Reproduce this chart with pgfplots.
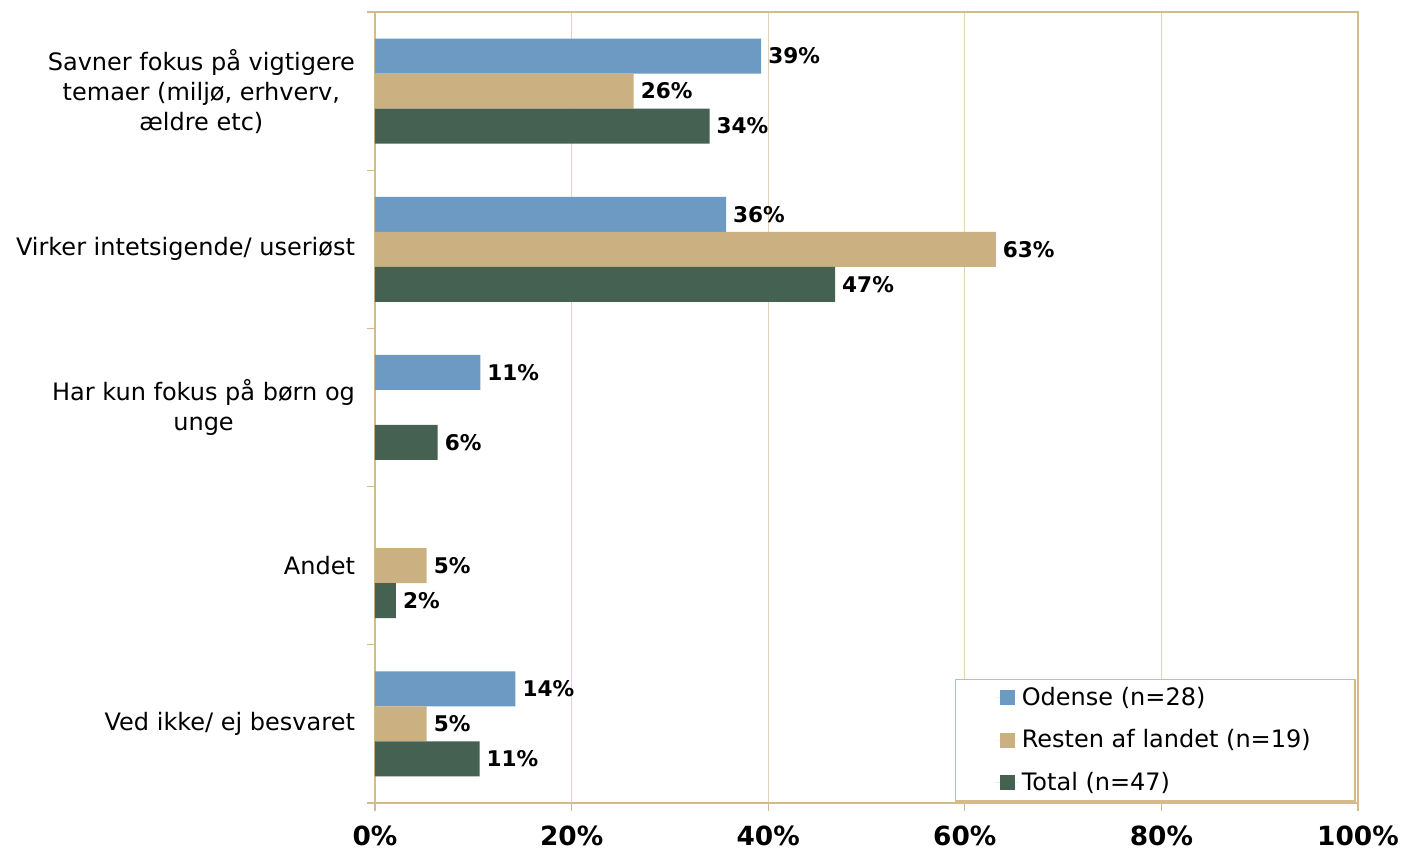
\documentclass[border=0pt]{standalone}
\usepackage{fontspec}
\setmainfont{DejaVu Sans}
\usepackage{pgfplots}
\pgfplotsset{compat=1.18}
\definecolor{odense}{RGB}{109,154,195}
\definecolor{resten}{RGB}{203,176,129}
\definecolor{total}{RGB}{69,97,82}
\definecolor{frame}{RGB}{212,186,140}
\definecolor{gridc}{RGB}{226,212,182}
\begin{document}
\begin{tikzpicture}
\path[use as bounding box] (-187.5pt,-23.5pt) rectangle (513.5pt,401.5pt);
\begin{axis}[
  scale only axis, width=491.5pt, height=395.5pt,
  xbar, bar width=17.5pt,
  xmin=0, xmax=100, ymin=-0.5, ymax=4.5,
  axis line style={draw=frame, line width=1pt},
  xtick={0,20,...,100},
  xtick pos=bottom, ytick pos=left,
  tick align=outside,
  major tick length=4pt, minor tick length=4pt,
  tick style={draw=frame, line width=0.6pt},
  xmajorgrids, major x grid style={draw=gridc, line width=0.6pt},
  /pgf/number format/assume math mode=true,
  xticklabel={\pgfmathprintnumber{\tick}\%},
  x tick label style={font=\bfseries\fontsize{13.2}{15}\selectfont, yshift=-4pt},
  ytick={0,...,4},
  yticklabels={Ved ikke/ ej besvaret, Andet, {Har kun fokus på børn og\\unge}, Virker intetsigende/ useriøst, {Savner fokus på vigtigere\\temaer (miljø, erhverv,\\ældre etc)}},
  y tick label style={align=center, font=\fontsize{12}{15}\selectfont, xshift=-2.5pt},
  major y tick style={draw=none},
  minor ytick={-0.5,0.5,...,4.5},
  nodes near coords={\pgfmathprintnumber[fixed,precision=0]{\pgfplotspointmeta}\%},
  every node near coord/.append style={font=\bfseries\fontsize{10.8}{12}\selectfont, black, anchor=west, xshift=0pt},
  legend style={at={(rel axis cs:0.998,0.0015)}, anchor=south east, draw=frame, line width=0.8pt,
    font=\fontsize{12}{14}\selectfont, row sep=6.5pt, inner xsep=20.25pt, inner ysep=2pt,
    cells={anchor=west}},
  legend image code/.code={\fill[#1] (2pt,-3.75pt) rectangle (9.5pt,3.75pt); \path (0pt,0pt) -- (11pt,0pt);},
  legend cell align=left,
]
\addplot[fill=odense, draw=none, bar shift=17.5pt] coordinates {(39.29,4) (35.71,3) (10.71,2) (14.29,0)};
\addplot[fill=resten, draw=none, bar shift=0pt] coordinates {(26.32,4) (63.16,3) (5.26,1) (5.26,0)};
\addplot[fill=total, draw=none, bar shift=-17.5pt] coordinates {(34.04,4) (46.81,3) (6.38,2) (2.13,1) (10.64,0)};
\legend{Odense (n=28), Resten af landet (n=19), Total (n=47)}
\end{axis}
\end{tikzpicture}
\end{document}
